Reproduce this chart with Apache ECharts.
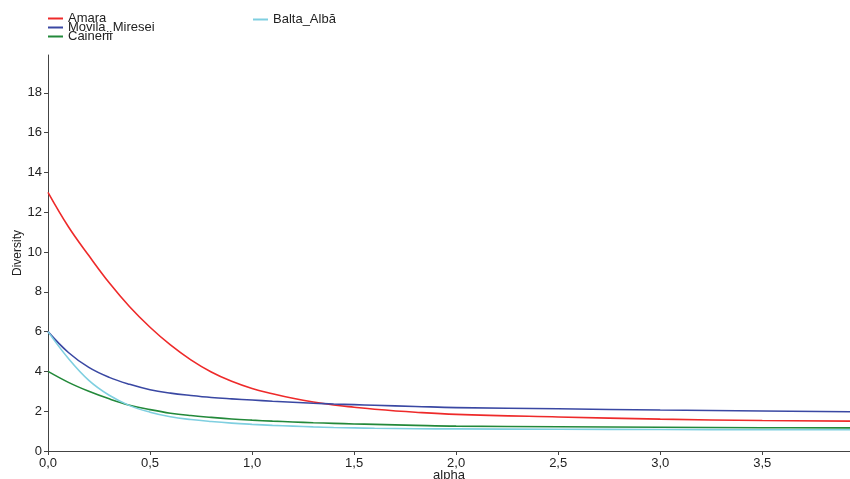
<!DOCTYPE html>
<html>
<head>
<meta charset="utf-8">
<script src="https://cdn.jsdelivr.net/npm/echarts@6/dist/echarts.min.js"></script>
<style>html,body{margin:0;padding:0;background:#fff}#c{width:850px;height:479px}</style>
</head>
<body>
<div id="c"></div>
<script>
const alphas = [0, 0.1, 0.2, 0.3, 0.4, 0.5, 0.6, 0.7, 0.8, 0.9, 1.0, 1.1, 1.2, 1.3, 1.4, 1.5, 1.6, 1.8, 2.0, 2.5, 3.0, 3.5, 3.93];
const amara = [13.0, 11.27, 9.82, 8.45, 7.25, 6.22, 5.33, 4.58, 3.97, 3.5, 3.14, 2.88, 2.65, 2.46, 2.31, 2.2, 2.1, 1.95, 1.84, 1.71, 1.6, 1.53, 1.5];
const movila = [6.0, 4.95, 4.2, 3.7, 3.35, 3.08, 2.91, 2.79, 2.69, 2.62, 2.56, 2.5, 2.45, 2.4, 2.36, 2.33, 2.3, 2.24, 2.18, 2.12, 2.06, 2.01, 1.97];
const cainerii = [4.0, 3.45, 3.0, 2.62, 2.3, 2.08, 1.9, 1.78, 1.69, 1.61, 1.55, 1.5, 1.46, 1.42, 1.39, 1.36, 1.34, 1.29, 1.25, 1.22, 1.19, 1.17, 1.16];
const balta = [6.0, 4.65, 3.55, 2.8, 2.28, 1.95, 1.72, 1.58, 1.48, 1.4, 1.34, 1.29, 1.25, 1.21, 1.18, 1.16, 1.14, 1.12, 1.11, 1.09, 1.08, 1.07, 1.07];
const names = ['Amara', 'Movila_Miresei', 'Cainerii', 'Balta_Albă'];
const colors = ['#ee2a2a', '#3a48a3', '#23893a', '#7fcfe0'];
const yTicks = [0, 2, 4, 6, 8, 10, 12, 14, 16, 18];
const xTicks = [0, 0.5, 1.0, 1.5, 2.0, 2.5, 3.0, 3.5];

const seriesVals = [amara, movila, cainerii, balta];
const chart = echarts.init(document.getElementById('c'));
const txt = {color: '#222', fontFamily: 'Liberation Sans, Arial, sans-serif', fontSize: 13};
const legendBase = {orient: 'vertical', icon: 'rect', itemWidth: 15, itemHeight: 2, itemGap: 5,
  textStyle: {color: '#222', fontFamily: 'Liberation Sans, Arial, sans-serif', fontSize: 13, padding: [0,0,0,0]}, padding: 0};
chart.setOption({
  animation: false,
  legend: [
    Object.assign({}, legendBase, {left: 48, top: 12, data: [names[0]]}),
    Object.assign({}, legendBase, {left: 48, top: 21, data: [names[1]]}),
    Object.assign({}, legendBase, {left: 48, top: 30, data: [names[2]]}),
    Object.assign({}, legendBase, {left: 253, top: 13, data: [names[3]]})
  ],
  grid: {left: 48, right: 0, top: 55, bottom: 28, containLabel: false, outerBoundsMode: 'none'},
  xAxis: {
    type: 'value', min: 0, max: 3.93, interval: 0.5,
    name: 'alpha', nameLocation: 'middle', nameGap: 18, nameMoveOverlap: false, nameTextStyle: txt,
    axisLine: {lineStyle: {color: '#444', width: 1}},
    axisTick: {length: 4, lineStyle: {color: '#444'}, customValues: xTicks},
    axisLabel: Object.assign({}, txt, {margin: 6, customValues: xTicks, formatter: v => v.toFixed(1).replace('.', ',')}),
    splitLine: {show: false}
  },
  yAxis: {
    type: 'value', min: 0, max: 19.9, interval: 2,
    name: 'Diversity', nameLocation: 'middle', nameGap: 24, nameMoveOverlap: false, nameRotate: 90, nameTextStyle: Object.assign({}, txt, {fontSize: 12}),
    axisLine: {show: true, lineStyle: {color: '#444', width: 1}},
    axisTick: {show: true, length: 4, lineStyle: {color: '#444'}, customValues: yTicks},
    axisLabel: Object.assign({}, txt, {margin: 6, customValues: yTicks}),
    splitLine: {show: false}
  },
  series: names.map((n, i) => ({
    name: n, type: 'line', smooth: 0.4, symbol: 'none',
    color: colors[i], lineStyle: {width: 1.6, color: colors[i]},
    data: alphas.map((a, j) => [a, seriesVals[i][j]])
  }))
});
</script>
</body>
</html>
